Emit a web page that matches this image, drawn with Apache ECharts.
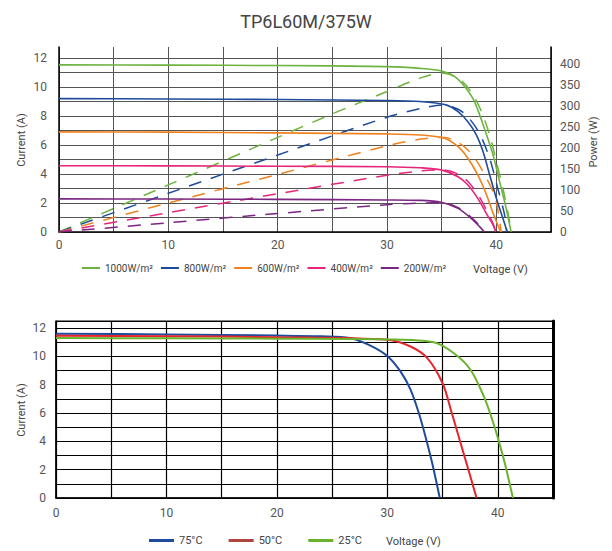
<!DOCTYPE html>
<html>
<head>
<meta charset="utf-8">
<script src="https://cdn.jsdelivr.net/npm/echarts@6/dist/echarts.min.js"></script>
<style>
html,body{margin:0;padding:0;background:#fff;}
#chart{width:612px;height:551px;}
</style>
</head>
<body>
<div id="chart"></div>
<script>
// ---------- data ----------
const titleText = 'TP6L60M/375W';
const irrNames = ['1000W/m²', '800W/m²', '600W/m²', '400W/m²', '200W/m²'];
const tempNames = ['75°C', '50°C', '25°C'];

// Top chart: I-V curves (voltage V, current A)
const iv1000 = [[0,11.52],[10,11.5],[20,11.47],[30,11.4],[33,11.28],[35,11.1],[36.2,10.71],[37.1,10.02],[38.0,8.99],[38.9,7.15],[39.7,5.31],[40.3,3.47],[40.9,1.63],[41.35,0]];
const iv800  = [[0,9.19],[10,9.17],[20,9.13],[30,9.06],[33,8.99],[35.4,8.76],[36.5,8.3],[37.4,7.6],[38.17,6.69],[38.78,5.54],[39.39,3.93],[40.0,2.32],[40.6,0.94],[41.0,0]];
const iv600  = [[0,6.9],[10,6.88],[20,6.83],[30,6.76],[33,6.69],[35.26,6.46],[36.5,5.88],[37.4,5.08],[38.3,3.93],[39.08,2.6],[39.75,1.2],[40.4,0]];
const iv400  = [[0,4.57],[10,4.56],[20,4.53],[30,4.5],[33,4.43],[34.95,4.28],[36.5,3.81],[37.4,3.24],[38.3,2.32],[39.08,1.29],[39.7,0.48],[39.95,0]];
const iv200  = [[0,2.28],[10,2.27],[20,2.25],[30,2.21],[33,2.18],[34.95,2.05],[36.5,1.63],[37.7,0.94],[38.47,0.37],[38.9,0]];

// Top chart: P-V curves (voltage V, power W)
const pv1000 = [[0,0],[10,112],[20,225],[25,281],[30,334],[33,366],[35,378],[36.6,364],[37.7,333],[38.6,289],[39.4,230],[40.0,167],[40.6,104],[41.1,40],[41.38,0]];
const pv800  = [[0,0],[10,92],[20,183],[30,273],[33.1,294],[35.2,302],[36.5,292],[37.4,274],[38.47,234],[39.39,175],[40.1,107],[40.76,40],[40.95,0]];
const pv600  = [[0,0],[10,69],[20,137],[30,205],[33.1,221],[35.3,225],[36.5,213],[37.4,195],[38.3,165],[39.1,128],[39.7,96],[40.0,72],[40.45,0]];
const pv400  = [[0,0],[10,46],[20,91],[30,135],[33,145],[35,148],[36.5,138],[37.4,120],[38.3,90],[39.1,52],[39.7,20],[39.95,0]];
const pv200  = [[0,0],[10,22],[20,44],[30,65],[32.2,68],[35,70],[36.5,58],[37.7,35],[38.5,14],[38.9,0]];

// Bottom chart: I-V curves at temperatures
const iv75 = [[0,11.6],[10,11.55],[20,11.47],[24,11.42],[26.6,11.3],[28.47,10.76],[30.04,10.0],[31.19,8.94],[32.1,7.65],[32.85,6.0],[33.45,4.35],[34.06,2.47],[34.75,0]];
const iv50 = [[0,11.46],[10,11.42],[20,11.36],[30,11.18],[32.1,10.7],[33.6,9.89],[35.02,8.07],[35.8,6.1],[36.55,4.1],[37.3,2.1],[38.08,0]];
const iv25 = [[0,11.3],[10,11.28],[20,11.25],[30,11.2],[34.2,11.0],[36.0,10.24],[37.53,9.06],[38.74,7.17],[39.5,5.53],[40.1,4.0],[40.71,2.23],[41.37,0]];

const voltageName = 'Voltage (V)';
const currentName = 'Current (A)';
const powerName = 'Power (W)';

// ---------- styles ----------
const irrColors = ['#6db33f', '#1f4b9b', '#f0821e', '#e5267a', '#7b2682'];
const tempColors = ['#1f4b9b', '#e5262b', '#6ab42d'];
const tempLegendColors = ['#1f4b9b', '#b0453d', '#6ab42d'];
const FONT = 'Roboto, "DejaVu Sans", sans-serif';
const labelColor = '#555';

const ivTop = [iv1000, iv800, iv600, iv400, iv200];
const pvTop = [pv1000, pv800, pv600, pv400, pv200];
const ivBottom = [iv75, iv50, iv25];

const series = [];
irrNames.forEach((n, i) => {
  series.push({
    name: n, type: 'line', xAxisIndex: 0, yAxisIndex: 0, data: ivTop[i],
    showSymbol: false, smooth: 0.3,
    color: irrColors[i], lineStyle: { width: 1.6, color: irrColors[i] }, z: 3
  });
});
irrNames.forEach((n, i) => {
  series.push({
    name: n + ' P', type: 'line', xAxisIndex: 0, yAxisIndex: 1, data: pvTop[i],
    showSymbol: false, smooth: 0.3,
    color: irrColors[i], lineStyle: { width: 1.5, color: irrColors[i], type: [13, 10] }, z: 2
  });
});
tempNames.forEach((n, i) => {
  series.push({
    name: n, type: 'line', xAxisIndex: 1, yAxisIndex: 2, data: ivBottom[i],
    showSymbol: false, smooth: 0.3,
    color: tempColors[i], lineStyle: { width: 2, color: tempColors[i] }, z: 3
  });
});

const evenFmt = v => (Math.abs(v % 2) < 1e-9 ? String(v) : '');
const tenFmt = v => (Math.abs(v % 10) < 1e-9 ? String(v) : '');

const chart = echarts.init(document.getElementById('chart'), null, { renderer: 'svg' });
chart.setOption({
  animation: false,
  backgroundColor: '#fff',
  textStyle: { fontFamily: FONT },
  title: {
    text: titleText, left: 'center', top: 7,
    textStyle: { fontSize: 18, fontWeight: 'normal', color: '#444', fontFamily: FONT }
  },
  grid: [
    { left: 59, right: 61, top: 47, bottom: 319, show: false },
    { left: 56, right: 59, top: 321, bottom: 53, show: true, borderColor: '#000', borderWidth: 1 }
  ],
  legend: [
    {
      data: irrNames, left: 82, top: 263, icon: 'rect', itemWidth: 18, itemHeight: 2, itemGap: 8,
      padding: 0, textStyle: { fontSize: 10, color: '#444', fontFamily: FONT }
    },
    {
      data: tempNames.map((n, i) => ({ name: n, itemStyle: { color: tempLegendColors[i] } })),
      left: 149, top: 535, icon: 'rect', itemWidth: 25, itemHeight: 3, itemGap: 26,
      padding: 0, textStyle: { fontSize: 11, color: '#444', fontFamily: FONT }
    }
  ],
  xAxis: [
    {
      gridIndex: 0, type: 'value', min: 0, max: 45, interval: 5,
      axisLine: { show: true, onZero: false, lineStyle: { color: '#000', width: 1.5 } },
      axisTick: { show: false },
      axisLabel: { formatter: tenFmt, color: labelColor, fontSize: 12, margin: 7, fontFamily: FONT },
      splitLine: { show: true, lineStyle: { color: '#555', width: 1 } }
    },
    {
      gridIndex: 1, type: 'value', min: 0, max: 45, interval: 5,
      axisLine: { show: true, onZero: false, lineStyle: { color: '#000', width: 1.5 } },
      axisTick: { show: false },
      axisLabel: { formatter: tenFmt, color: labelColor, fontSize: 12, margin: 9, fontFamily: FONT },
      splitLine: { show: true, lineStyle: { color: '#000', width: 1.2 } }
    }
  ],
  yAxis: [
    {
      gridIndex: 0, type: 'value', min: 0, max: 12.75, interval: 1, position: 'left',
      axisLine: { show: true, onZero: false, lineStyle: { color: '#000', width: 1.5 } },
      axisTick: { show: false },
      axisLabel: { formatter: evenFmt, color: labelColor, fontSize: 12, margin: 12, fontFamily: FONT },
      splitLine: { show: true, showMaxLine: false, lineStyle: { color: '#555', width: 1 } }
    },
    {
      gridIndex: 0, type: 'value', min: 0, max: 440, interval: 50, position: 'right',
      axisLine: { show: true, onZero: false, lineStyle: { color: '#000', width: 1.5 } },
      axisTick: { show: false },
      axisLabel: { formatter: v => (v % 50 === 0 && v <= 400 ? String(v) : ''), color: labelColor, fontSize: 12, margin: 9, fontFamily: FONT },
      splitLine: { show: false }
    },
    {
      gridIndex: 1, type: 'value', min: 0, max: 12.5, interval: 1, position: 'left',
      axisLine: { show: true, onZero: false, lineStyle: { color: '#000', width: 1.5 } },
      axisTick: { show: false },
      axisLabel: { formatter: evenFmt, color: labelColor, fontSize: 12, margin: 10, fontFamily: FONT },
      splitLine: { show: true, lineStyle: { color: '#000', width: 1.2 } }
    },
    {
      gridIndex: 1, type: 'value', min: 0, max: 12.5, interval: 1, position: 'right',
      axisLine: { show: true, onZero: false, lineStyle: { color: '#000', width: 3 } },
      axisTick: { show: false }, axisLabel: { show: false }, splitLine: { show: false }
    }
  ],
  graphic: [
    { type: 'text', x: 21, y: 140, rotation: Math.PI / 2,
      style: { text: currentName, fill: '#444', font: '11px ' + FONT, align: 'center', verticalAlign: 'middle' } },
    { type: 'text', x: 593, y: 142, rotation: Math.PI / 2,
      style: { text: powerName, fill: '#444', font: '11px ' + FONT, align: 'center', verticalAlign: 'middle' } },
    { type: 'text', x: 473, y: 269,
      style: { text: voltageName, fill: '#444', font: '11px ' + FONT, align: 'left', verticalAlign: 'middle' } },
    { type: 'text', x: 21, y: 410, rotation: Math.PI / 2,
      style: { text: currentName, fill: '#444', font: '11px ' + FONT, align: 'center', verticalAlign: 'middle' } },
    { type: 'text', x: 386, y: 541,
      style: { text: voltageName, fill: '#444', font: '11px ' + FONT, align: 'left', verticalAlign: 'middle' } }
  ],
  series: series
});
</script>
</body>
</html>
